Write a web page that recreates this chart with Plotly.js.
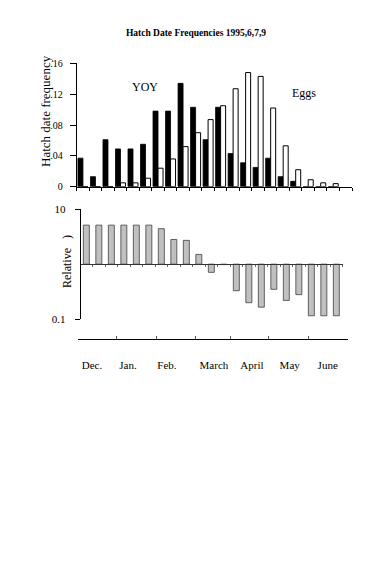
<!DOCTYPE html>
<html><head><meta charset="utf-8">
<script src="https://cdn.plot.ly/plotly-3.0.1.min.js"></script>
<style>html,body{margin:0;padding:0;background:#fff}#chart{width:392px;height:566px}</style>
</head><body><div id="chart"></div>
<script>
// ---- data ----
const periods = [1,2,3,4,5,6,7,8,9,10,11,12,13,14,15,16,17,18,19,20,21];
const yoy  = [0.037,0.013,0.061,0.049,0.049,0.055,0.098,0.098,0.134,0.103,0.061,0.103,0.043,0.031,0.025,0.037,0.013,0.007,0,0,0];
const eggs = [0,0,0,0.005,0.005,0.011,0.024,0.036,0.052,0.070,0.087,0.105,0.127,0.148,0.143,0.102,0.053,0.022,0.009,0.005,0.004];
const relative = [5.1,5.1,5.1,5.1,5.1,5.1,4.4,2.8,2.7,1.5,0.71,0.98,0.33,0.20,0.166,0.35,0.22,0.28,0.116,0.116,0.116];
const months = ['Dec.','Jan.','Feb.','March','April','May','June'];
const freqTicks = [0,0.04,0.08,0.12,0.16];
const freqTickText = ['0','.04','.08','.12','.16'];
const relTicks = [0.1,10];
const relTickText = ['0.1','10'];

// ---- helpers (pixel -> paper) ----
const W = 392, H = 566;
const px = v => v / W;
const py = v => 1 - v / H;
const serif = 'Liberation Serif, Times New Roman, serif';

const traces = [
  {type:'bar', x: periods, y: yoy, name:'YOY', xaxis:'x', yaxis:'y',
   marker:{color:'#000', line:{color:'#000', width:0.8}}, hoverinfo:'skip'},
  {type:'bar', x: periods, y: eggs, name:'Eggs', xaxis:'x', yaxis:'y',
   marker:{color:'#fff', line:{color:'#000', width:1}}, hoverinfo:'skip'},
  {type:'bar', x: periods.map(p => p - 1), y: relative.map(v => v - 1), base: relative.map(() => 1),
   xaxis:'x2', yaxis:'y2', width: 0.48,
   marker:{color:'#c0c0c0', line:{color:'#404040', width:0.8}}, hoverinfo:'skip'},
  {type:'scatter', x:[], y:[], xaxis:'x3', yaxis:'y3', hoverinfo:'skip'}
];

const monthCenters = [1.72, 4.6, 7.72, 11.48, 14.52, 17.54, 20.58];
const monthBounds = [3.72, 6.92, 10.04, 12.84, 15.88, 19.08];

const layout = {
  width: W, height: H,
  margin:{l:0,r:0,t:0,b:0},
  paper_bgcolor:'#fff', plot_bgcolor:'rgba(0,0,0,0)',
  showlegend:false,
  barmode:'group', bargap:0.2, bargroupgap:0,
  font:{family: serif, color:'#000', size:11},
  title:{text:'<b>Hatch Date Frequencies 1995,6,7,9</b>', x:0.5, xanchor:'center',
         y: py(33), yanchor:'middle', yref:'paper', font:{family: serif, size:9.5, color:'#000'}},
  xaxis:{domain:[px(76.7), px(352)], range:[0.5, 22.5], anchor:'y',
         showline:true, linecolor:'#000', linewidth:1, ticks:'outside', ticklen:3, tickcolor:'#000',
         tickmode:'linear', tick0:0.5, dtick:1, showticklabels:false, showgrid:false, zeroline:false},
  yaxis:{domain:[py(186.7), py(63.3)], range:[0, 0.16], anchor:'x',
         showline:true, linecolor:'#000', linewidth:1, ticks:'outside', ticklen:6, tickcolor:'#000',
         tickvals: freqTicks, ticktext: freqTickText, ticklabelstandoff:5,
         showgrid:false, zeroline:false, tickfont:{size:10, family: serif}},
  xaxis2:{domain:[px(80.7), px(343.2)], range:[-0.45, 20.55], anchor:'free', position: py(264),
          showline:true, linecolor:'#333', linewidth:1, ticks:'outside', ticklen:2, tickcolor:'#666',
          tickmode:'linear', tick0:0.5, dtick:1, showticklabels:false, showgrid:false, zeroline:false},
  yaxis2:{type:'log', domain:[py(319.3), py(209)], range:[-1, 1], anchor:'x2',
          showline:true, linecolor:'#000', linewidth:1, ticks:'outside', ticklen:5, tickcolor:'#000',
          tickvals: relTicks, ticktext: relTickText, ticklabelstandoff:7,
          showgrid:false, zeroline:false, tickfont:{size:11, family: serif}},
  xaxis3:{domain:[px(78), px(348)], range:[0.604, 22.204], anchor:'free', position: py(339),
          showline:true, linecolor:'#000', linewidth:1.2, ticks:'', tickvals: monthCenters, ticktext: months,
          ticklabelstandoff:16, minor:{tickvals: monthBounds, ticks:'inside', ticklen:3, tickcolor:'#555'},
          showgrid:false, zeroline:false, tickfont:{size:11, family: serif}},
  yaxis3:{domain:[0.3, 0.35], anchor:'x3', visible:false},
  annotations:[
    {text:'Hatch date frequency', xref:'paper', yref:'paper', x: px(45), y: py(111), textangle:-90,
     showarrow:false, font:{size:13, family: serif, color:'#000'}, xanchor:'center', yanchor:'middle'},
    {text:'YOY', xref:'paper', yref:'paper', x: px(145), y: py(87), showarrow:false,
     font:{size:12, family: serif, color:'#000'}, xanchor:'center', yanchor:'middle'},
    {text:'Eggs', xref:'paper', yref:'paper', x: px(304), y: py(93), showarrow:false,
     font:{size:12, family: serif, color:'#000'}, xanchor:'center', yanchor:'middle'},
    {text:'Relative   )', xref:'paper', yref:'paper', x: px(67), y: py(262), textangle:-90, showarrow:false,
     font:{size:12, family: serif, color:'#000'}, xanchor:'center', yanchor:'middle'}
  ]
};

Plotly.newPlot('chart', traces, layout, {displayModeBar:false, staticPlot:true});
</script>
</body></html>
